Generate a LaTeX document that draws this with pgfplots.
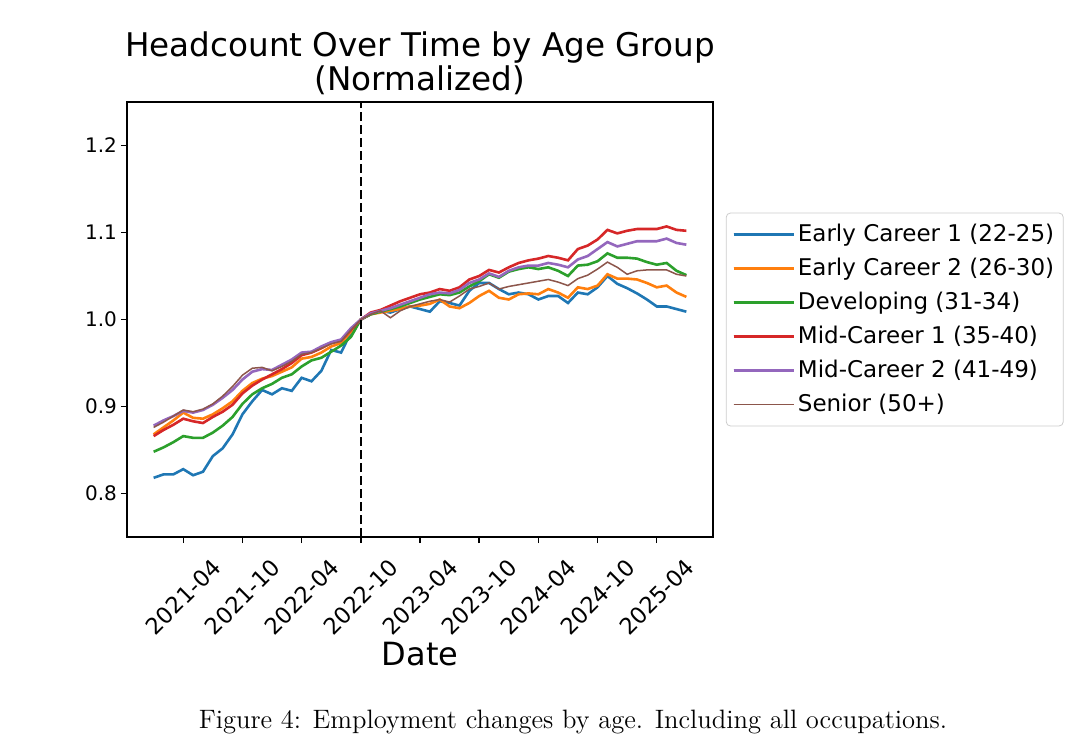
\documentclass[border=0pt]{standalone}
\usepackage{fontspec}
\usepackage{pgfplots}
\pgfplotsset{compat=1.18}
\usepackage{pgfplotstable}
\newfontfamily\dejavu{DejaVu Sans}

\definecolor{tabblue}{HTML}{1F77B4}
\definecolor{taborange}{HTML}{FF7F0E}
\definecolor{tabgreen}{HTML}{2CA02C}
\definecolor{tabred}{HTML}{D62728}
\definecolor{tabpurple}{HTML}{9467BD}
\definecolor{tabbrown}{HTML}{8C564B}

% month index: 0 = 2021-01, normalised to 1 at 2022-10 (21)
\pgfplotstableread{
m  ec1   ec2   dev   mc1   mc2   sen
0  0.818 0.868 0.848 0.866 0.878 0.876
1  0.822 0.876 0.853 0.873 0.884 0.882
2  0.822 0.884 0.859 0.879 0.889 0.889
3  0.828 0.893 0.866 0.886 0.895 0.896
4  0.821 0.887 0.864 0.883 0.893 0.894
5  0.825 0.886 0.864 0.881 0.896 0.897
6  0.843 0.891 0.870 0.888 0.902 0.903
7  0.852 0.898 0.878 0.894 0.910 0.912
8  0.868 0.906 0.888 0.902 0.919 0.923
9  0.891 0.918 0.903 0.915 0.931 0.936
10 0.906 0.927 0.914 0.924 0.940 0.944
11 0.919 0.932 0.921 0.931 0.943 0.945
12 0.914 0.935 0.926 0.937 0.942 0.941
13 0.921 0.940 0.933 0.943 0.948 0.946
14 0.918 0.945 0.937 0.950 0.954 0.952
15 0.933 0.955 0.946 0.959 0.962 0.960
16 0.929 0.957 0.953 0.962 0.963 0.962
17 0.941 0.962 0.956 0.967 0.969 0.967
18 0.965 0.969 0.963 0.973 0.974 0.972
19 0.962 0.973 0.970 0.976 0.977 0.975
20 0.985 0.986 0.980 0.988 0.990 0.988
21 1.000 1.000 1.000 1.000 1.000 1.000
22 1.006 1.006 1.006 1.008 1.007 1.006
23 1.010 1.008 1.009 1.011 1.010 1.010
24 1.008 1.010 1.012 1.016 1.013 1.002
25 1.012 1.012 1.015 1.021 1.017 1.010
26 1.015 1.015 1.019 1.025 1.021 1.015
27 1.012 1.016 1.023 1.029 1.025 1.018
28 1.009 1.018 1.026 1.031 1.029 1.021
29 1.021 1.023 1.029 1.035 1.031 1.023
30 1.019 1.015 1.028 1.033 1.030 1.020
31 1.016 1.013 1.031 1.037 1.034 1.027
32 1.033 1.019 1.038 1.046 1.042 1.035
33 1.042 1.027 1.044 1.050 1.046 1.038
34 1.042 1.033 1.052 1.057 1.053 1.042
35 1.035 1.025 1.048 1.054 1.049 1.035
36 1.029 1.023 1.055 1.060 1.056 1.038
37 1.031 1.029 1.058 1.065 1.060 1.040
38 1.029 1.030 1.060 1.068 1.062 1.042
39 1.023 1.029 1.058 1.070 1.062 1.044
40 1.027 1.035 1.060 1.073 1.065 1.046
41 1.027 1.031 1.056 1.071 1.063 1.043
42 1.019 1.025 1.050 1.068 1.060 1.039
43 1.031 1.037 1.062 1.081 1.069 1.047
44 1.029 1.035 1.063 1.085 1.073 1.051
45 1.037 1.039 1.067 1.092 1.081 1.058
46 1.050 1.052 1.076 1.103 1.089 1.066
47 1.041 1.047 1.071 1.099 1.084 1.060
48 1.036 1.047 1.071 1.102 1.087 1.052
49 1.030 1.046 1.070 1.104 1.090 1.056
50 1.023 1.042 1.066 1.104 1.090 1.057
51 1.015 1.037 1.063 1.104 1.090 1.057
52 1.015 1.039 1.065 1.107 1.093 1.057
53 1.012 1.031 1.056 1.103 1.088 1.052
54 1.009 1.026 1.051 1.102 1.086 1.050
}\headcount

\begin{document}
\begin{tikzpicture}
\path[use as bounding box] (-63.5pt,-107.5pt) rectangle (482.5pt,268.5pt);
\begin{axis}[
    at={(0pt,0pt)}, anchor=south west,
    scale only axis,
    width=293pt, height=217.5pt,
    xmin=-2.7, xmax=56.7,
    ymin=0.75, ymax=1.25,
    xtick={3,9,...,51},
    xticklabels={2021-04,2021-10,2022-04,2022-10,2023-04,2023-10,2024-04,2024-10,2025-04},
    ytick={0.8,0.9,1.0,1.1,1.2},
    yticklabel style={/pgf/number format/fixed, /pgf/number format/fixed zerofill,
        /pgf/number format/precision=1, font=\dejavu\fontsize{10}{12}\selectfont,
        xshift=1.5pt},
    /pgf/number format/assume math mode=true,
    scaled y ticks=false,
    xticklabel style={font=\dejavu\fontsize{11.3}{13}\selectfont, rotate=45, anchor=center},
    xticklabel shift=27pt,
    xtick pos=bottom, ytick pos=left,
    tick align=outside,
    major tick length=3pt,
    tick style={black, line width=0.7pt},
    axis line style={black, line width=0.8pt},
    title={Headcount Over Time by Age Group\\(Normalized)},
    title style={font=\dejavu\fontsize{16.3}{17}\selectfont, align=center,
        at={(0.5,1)}, anchor=south, yshift=-2.5pt, inner sep=0pt},
    xlabel={Date},
    xlabel style={font=\dejavu\fontsize{16}{19}\selectfont,
        at={(axis description cs:0.5,0)}, anchor=base, yshift=-64pt},
    legend style={at={(1.022,0.5)}, anchor=west, draw=black!20, fill=white,
        rounded corners=2pt, font=\dejavu\fontsize{11.5}{13}\selectfont,
        row sep=3.8pt, inner xsep=3pt, inner ysep=4pt,
        nodes={inner sep=1.5pt}},
    legend cell align=left,
    legend image code/.code={\draw[#1] (0pt,0pt) -- (24pt,0pt);
        \path (0pt,0pt) -- (30pt,0pt);},
]
\addplot[tabblue, line width=1.3pt] table[x=m, y=ec1] {\headcount};
\addlegendentry{Early Career 1 (22-25)}
\addplot[taborange, line width=1.3pt] table[x=m, y=ec2] {\headcount};
\addlegendentry{Early Career 2 (26-30)}
\addplot[tabgreen, line width=1.3pt] table[x=m, y=dev] {\headcount};
\addlegendentry{Developing (31-34)}
\addplot[tabred, line width=1.3pt] table[x=m, y=mc1] {\headcount};
\addlegendentry{Mid-Career 1 (35-40)}
\addplot[tabpurple, line width=1.3pt] table[x=m, y=mc2] {\headcount};
\addlegendentry{Mid-Career 2 (41-49)}
\addplot[tabbrown, line width=0.75pt] table[x=m, y=sen] {\headcount};
\addlegendentry{Senior (50+)}
\addplot[black, line width=0.75pt, dash pattern=on 4.5pt off 2pt, forget plot]
    coordinates {(21,0.75) (21,1.25)};
\end{axis}
\node[font=\fontsize{13.3}{16}\selectfont, anchor=base] at (223pt,-95.5pt)
    {Figure 4: Employment changes by age. Including all occupations.};
\end{tikzpicture}
\end{document}
